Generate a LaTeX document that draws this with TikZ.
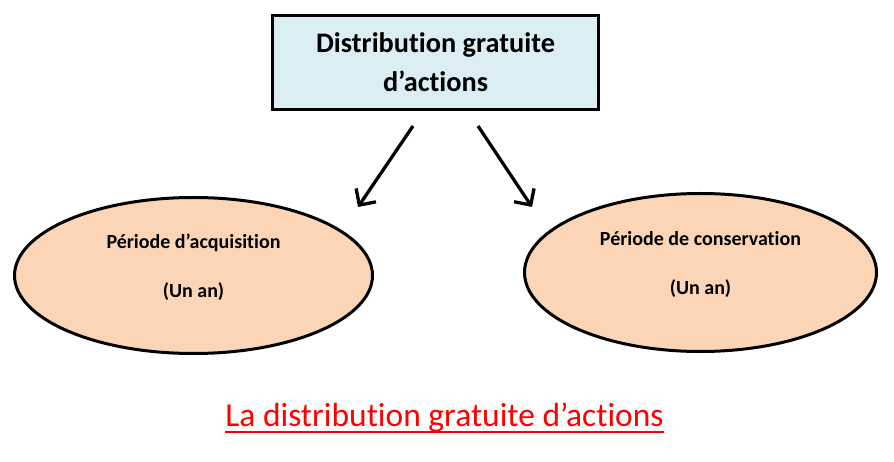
\documentclass[tikz,border=0pt]{standalone}
\usepackage{fontspec}
\setmainfont{Carlito}[Ligatures=NoCommon]
\usepackage{tikz}
\usetikzlibrary{positioning}
\usetikzlibrary{shapes.geometric}
\usetikzlibrary{arrows.meta}

\definecolor{boxblue}{HTML}{DAEEF3}
\definecolor{peach}{HTML}{FBD5B5}

\begin{document}
\begin{tikzpicture}[
    x=1pt, y=-1pt,
    titlebox/.style={draw=black, line width=3pt, fill=boxblue, minimum width=326pt, minimum height=94pt, align=center, font=\fontsize{28.3}{39}\selectfont\bfseries},
    periode/.style={ellipse, draw=black, line width=3pt, fill=peach, inner sep=0pt},
    periodetxt/.style={align=center, font=\fontsize{20}{24.5}\selectfont\bfseries},
    flow/.style={line width=3.3pt, -{Straight Barb[length=12pt,width=24pt,line width=3.3pt]}}
    ]
    \useasboundingbox (0,0) rectangle (894,462);

    %Nodes
    \node[titlebox] (dist) at (435.5,62.5) {Distribution gratuite\\d'actions};

    \node[periode, minimum width=358pt, minimum height=156pt] (acq) at (193.5,275.5) {};
    \node[periodetxt] (acqtxt) at ([yshift=8pt]acq.center) {Période d'acquisition\\[24.5pt](Un an)};
    \node[periode, minimum width=352pt, minimum height=158pt] (cons) at (700.5,272.5) {};
    \node[periodetxt] (constxt) at ([yshift=8pt]cons.center) {Période de conservation\\[24.5pt](Un an)};

    \node[text=red, inner xsep=0pt, font=\fontsize{33.5}{35}\selectfont] (titre) at (444.5,418) {La distribution gratuite d'actions};

    \coordinate (a1) at (413,126);
    \coordinate (b1) at (358,207);
    \coordinate (a2) at (478,126);
    \coordinate (b2) at (532,207);

    %Lines
    \draw[flow] (a1) -- (b1);
    \draw[flow] (a2) -- (b2);
    \draw[red, line width=2.2pt] ([yshift=-5pt]titre.base west) -- ([yshift=-5pt]titre.base east);

\end{tikzpicture}
\end{document}
